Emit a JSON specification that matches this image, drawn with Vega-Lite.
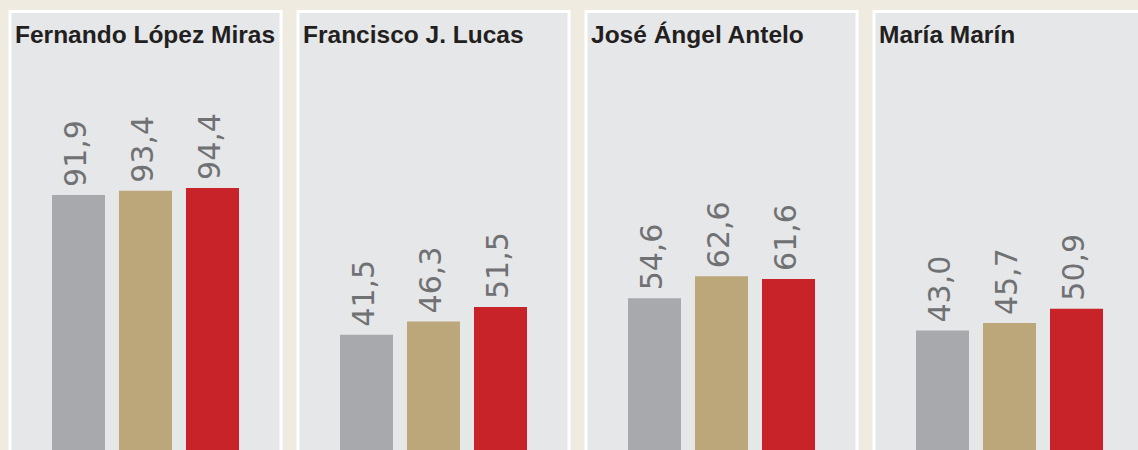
{
  "$schema": "https://vega.github.io/schema/vega-lite/v6.json",
  "background": "#efebe0",
  "padding": {"left": 8, "top": 9.5, "right": 0, "bottom": 0},
  "spacing": 13,
  "data": {
    "values": [
      {"candidato": "Fernando López Miras", "serie": "1", "valor": 91.9},
      {"candidato": "Fernando López Miras", "serie": "2", "valor": 93.4},
      {"candidato": "Fernando López Miras", "serie": "3", "valor": 94.4},
      {"candidato": "Francisco J. Lucas", "serie": "1", "valor": 41.5},
      {"candidato": "Francisco J. Lucas", "serie": "2", "valor": 46.3},
      {"candidato": "Francisco J. Lucas", "serie": "3", "valor": 51.5},
      {"candidato": "José Ángel Antelo", "serie": "1", "valor": 54.6},
      {"candidato": "José Ángel Antelo", "serie": "2", "valor": 62.6},
      {"candidato": "José Ángel Antelo", "serie": "3", "valor": 61.6},
      {"candidato": "María Marín", "serie": "1", "valor": 43.0},
      {"candidato": "María Marín", "serie": "2", "valor": 45.7},
      {"candidato": "María Marín", "serie": "3", "valor": 50.9}
    ]
  },
  "hconcat": [
    {
      "width": 271, "height": 445,
      "title": {"text": "Fernando López Miras"},
      "transform": [{"filter": {"field": "candidato", "equal": "Fernando López Miras"}}],
      "layer": [
        {"mark": {"type": "bar"},
         "encoding": {
           "x": {"field": "serie", "type": "nominal", "axis": null, "scale": {"paddingInner": 0.209, "paddingOuter": 0.627}},
           "y": {"field": "valor", "type": "quantitative", "axis": null, "scale": {"domain": [-2.4, 158], "nice": false, "zero": false}},
           "y2": {"datum": -2.4},
           "color": {"field": "serie", "type": "nominal", "legend": null, "scale": {"domain": ["1", "2", "3"], "range": ["#a7a9ac", "#bca77b", "#c9232a"]}}
         }},
        {"mark": {"type": "text", "angle": 270, "align": "left", "baseline": "middle", "dx": 8, "dy": -1.5, "font": "DejaVu Sans", "fontSize": 30, "color": "#707173"},
         "encoding": {
           "x": {"field": "serie", "type": "nominal", "axis": null},
           "y": {"field": "valor", "type": "quantitative", "axis": null},
           "text": {"field": "valor", "type": "quantitative", "format": ".1f"}
         }}
      ]
    },
    {
      "width": 271, "height": 445,
      "title": {"text": "Francisco J. Lucas"},
      "transform": [{"filter": {"field": "candidato", "equal": "Francisco J. Lucas"}}],
      "layer": [
        {"mark": {"type": "bar"},
         "encoding": {
           "x": {"field": "serie", "type": "nominal", "axis": null, "scale": {"paddingInner": 0.209, "paddingOuter": 0.627}},
           "y": {"field": "valor", "type": "quantitative", "axis": null, "scale": {"domain": [-2.4, 158], "nice": false, "zero": false}},
           "y2": {"datum": -2.4},
           "color": {"field": "serie", "type": "nominal", "legend": null, "scale": {"domain": ["1", "2", "3"], "range": ["#a7a9ac", "#bca77b", "#c9232a"]}}
         }},
        {"mark": {"type": "text", "angle": 270, "align": "left", "baseline": "middle", "dx": 8, "dy": -1.5, "font": "DejaVu Sans", "fontSize": 30, "color": "#707173"},
         "encoding": {
           "x": {"field": "serie", "type": "nominal", "axis": null},
           "y": {"field": "valor", "type": "quantitative", "axis": null},
           "text": {"field": "valor", "type": "quantitative", "format": ".1f"}
         }}
      ]
    },
    {
      "width": 271, "height": 445,
      "title": {"text": "José Ángel Antelo"},
      "transform": [{"filter": {"field": "candidato", "equal": "José Ángel Antelo"}}],
      "layer": [
        {"mark": {"type": "bar"},
         "encoding": {
           "x": {"field": "serie", "type": "nominal", "axis": null, "scale": {"paddingInner": 0.209, "paddingOuter": 0.627}},
           "y": {"field": "valor", "type": "quantitative", "axis": null, "scale": {"domain": [-2.4, 158], "nice": false, "zero": false}},
           "y2": {"datum": -2.4},
           "color": {"field": "serie", "type": "nominal", "legend": null, "scale": {"domain": ["1", "2", "3"], "range": ["#a7a9ac", "#bca77b", "#c9232a"]}}
         }},
        {"mark": {"type": "text", "angle": 270, "align": "left", "baseline": "middle", "dx": 8, "dy": -1.5, "font": "DejaVu Sans", "fontSize": 30, "color": "#707173"},
         "encoding": {
           "x": {"field": "serie", "type": "nominal", "axis": null},
           "y": {"field": "valor", "type": "quantitative", "axis": null},
           "text": {"field": "valor", "type": "quantitative", "format": ".1f"}
         }}
      ]
    },
    {
      "width": 271, "height": 445,
      "title": {"text": "María Marín"},
      "transform": [{"filter": {"field": "candidato", "equal": "María Marín"}}],
      "layer": [
        {"mark": {"type": "bar"},
         "encoding": {
           "x": {"field": "serie", "type": "nominal", "axis": null, "scale": {"paddingInner": 0.209, "paddingOuter": 0.627}},
           "y": {"field": "valor", "type": "quantitative", "axis": null, "scale": {"domain": [-2.4, 158], "nice": false, "zero": false}},
           "y2": {"datum": -2.4},
           "color": {"field": "serie", "type": "nominal", "legend": null, "scale": {"domain": ["1", "2", "3"], "range": ["#a7a9ac", "#bca77b", "#c9232a"]}}
         }},
        {"mark": {"type": "text", "angle": 270, "align": "left", "baseline": "middle", "dx": 8, "dy": -1.5, "font": "DejaVu Sans", "fontSize": 30, "color": "#707173"},
         "encoding": {
           "x": {"field": "serie", "type": "nominal", "axis": null},
           "y": {"field": "valor", "type": "quantitative", "axis": null},
           "text": {"field": "valor", "type": "quantitative", "format": ".1f"}
         }}
      ]
    }
  ],
  "config": {
    "view": {"fill": "#e6e7e9", "stroke": "#ffffff", "strokeWidth": 3},
    "locale": {"number": {"decimal": ",", "thousands": ".", "grouping": [3], "currency": ["", " €"]}},
    "title": {"anchor": "start", "frame": "group", "orient": "top", "offset": -37, "dx": 5, "baseline": "alphabetic", "font": "Liberation Sans", "fontSize": 24.5, "fontWeight": "bold", "color": "#231f20"}
  }
}
